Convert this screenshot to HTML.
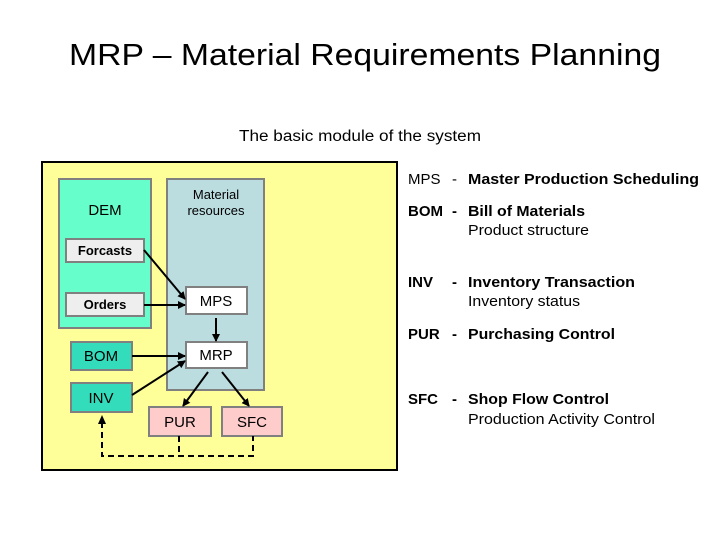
<!DOCTYPE html>
<html><head><meta charset="utf-8"><style>
html,body{margin:0;padding:0;background:#fff;}
svg{display:block;font-family:"Liberation Sans",Arial,sans-serif;}
</style></head><body>
<svg width="720" height="540" viewBox="0 0 720 540" xmlns="http://www.w3.org/2000/svg">
<defs>
<marker id="a" markerWidth="8" markerHeight="8" refX="7" refY="4" orient="auto" markerUnits="userSpaceOnUse"><path d="M0,0 L8,4 L0,8 z" fill="#000"/></marker>
</defs>
<text x="365" y="65" font-size="31" text-anchor="middle" textLength="592" lengthAdjust="spacingAndGlyphs">MRP – Material Requirements Planning</text>
<text x="360" y="141" font-size="15.5" text-anchor="middle" textLength="242" lengthAdjust="spacingAndGlyphs">The basic module of the system</text>

<rect x="42" y="162" width="355" height="308" fill="#ffff99" stroke="#000" stroke-width="2"/>
<rect x="59" y="179" width="92" height="149" fill="#66ffcc" stroke="#808080" stroke-width="2"/>
<rect x="167" y="179" width="97" height="211" fill="#bbdde0" stroke="#808080" stroke-width="2"/>
<text x="105" y="215" font-size="15" text-anchor="middle">DEM</text>
<text x="216" y="199" font-size="13" text-anchor="middle">Material</text>
<text x="216" y="215" font-size="13" text-anchor="middle">resources</text>

<g stroke="#808080" stroke-width="2">
<rect x="66" y="239" width="78" height="23" fill="#eeeeee"/>
<rect x="66" y="293" width="78" height="23" fill="#eeeeee"/>
<rect x="186" y="287" width="61" height="27" fill="#fff"/>
<rect x="186" y="342" width="61" height="26" fill="#fff"/>
<rect x="71" y="342" width="61" height="28" fill="#33ddbb"/>
<rect x="71" y="383" width="61" height="29" fill="#33ddbb"/>
<rect x="149" y="407" width="62" height="29" fill="#ffcccc"/>
<rect x="222" y="407" width="60" height="29" fill="#ffcccc"/>
</g>
<g font-size="13" font-weight="bold" text-anchor="middle">
<text x="105" y="255">Forcasts</text>
<text x="105" y="309">Orders</text>
</g>
<g font-size="15" text-anchor="middle">
<text x="216" y="306">MPS</text>
<text x="216" y="360">MRP</text>
<text x="101" y="361">BOM</text>
<text x="101" y="403">INV</text>
<text x="180" y="427">PUR</text>
<text x="252" y="427">SFC</text>
</g>

<g stroke="#000" stroke-width="2" marker-end="url(#a)">
<line x1="144" y1="250" x2="185" y2="299"/>
<line x1="144" y1="305" x2="185" y2="305"/>
<line x1="216" y1="318" x2="216" y2="341"/>
<line x1="132" y1="356" x2="185" y2="356"/>
<line x1="132" y1="395" x2="185" y2="361"/>
<line x1="208" y1="372" x2="183" y2="406"/>
<line x1="222" y1="372" x2="249" y2="406"/>
</g>
<g stroke="#000" stroke-width="2" fill="none" stroke-dasharray="6,4">
<polyline points="102,422 102,456 253,456 253,436"/>
<line x1="179" y1="436" x2="179" y2="456"/>
</g>
<path d="M98,424 L102,415 L106,424 z" fill="#000"/>

<g font-size="15">
<text x="408" y="184">MPS</text>
<text x="452" y="184">-</text>
<text x="468" y="184" font-weight="bold" textLength="231" lengthAdjust="spacingAndGlyphs">Master Production Scheduling</text>

<text x="408" y="216" font-weight="bold">BOM</text>
<text x="452" y="216" font-weight="bold">-</text>
<text x="468" y="216" font-weight="bold" textLength="117" lengthAdjust="spacingAndGlyphs">Bill of Materials</text>
<text x="468" y="235" font-size="14.5" textLength="121" lengthAdjust="spacingAndGlyphs">Product structure</text>

<text x="408" y="287" font-weight="bold">INV</text>
<text x="452" y="287" font-weight="bold">-</text>
<text x="468" y="287" font-weight="bold" textLength="167" lengthAdjust="spacingAndGlyphs">Inventory Transaction</text>
<text x="468" y="306" font-size="14.5" textLength="112" lengthAdjust="spacingAndGlyphs">Inventory status</text>

<text x="408" y="339" font-weight="bold">PUR</text>
<text x="452" y="339" font-weight="bold">-</text>
<text x="468" y="339" font-weight="bold" textLength="147" lengthAdjust="spacingAndGlyphs">Purchasing Control</text>

<text x="408" y="404" font-weight="bold">SFC</text>
<text x="452" y="404" font-weight="bold">-</text>
<text x="468" y="404" font-weight="bold" textLength="141" lengthAdjust="spacingAndGlyphs">Shop Flow Control</text>
<text x="468" y="424" font-size="14.5" textLength="187" lengthAdjust="spacingAndGlyphs">Production Activity Control</text>
</g>
</svg>
</body></html>
